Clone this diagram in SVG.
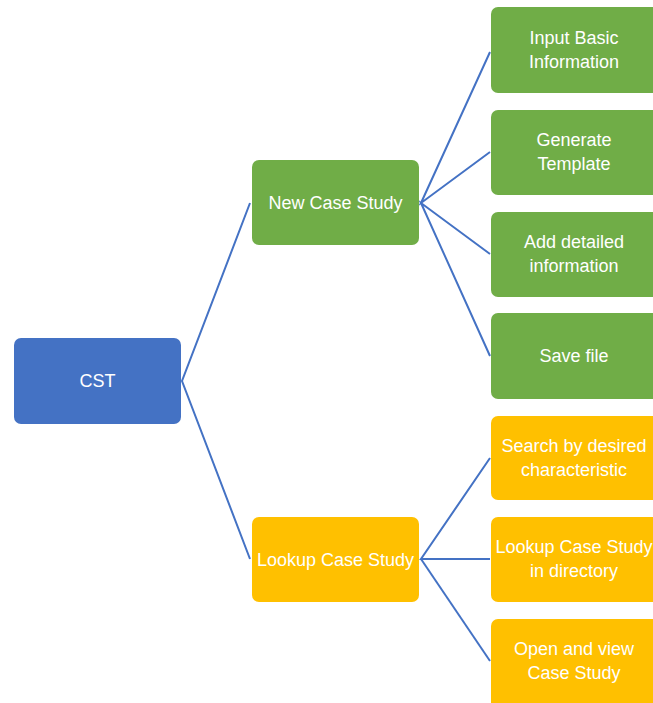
<svg xmlns="http://www.w3.org/2000/svg" width="653" height="703" viewBox="0 0 653 703">
<style>
.b{fill:#4472C4}.g{fill:#70AD47}.y{fill:#FFC000}
text{font-family:"Liberation Sans","Open Sans",sans-serif;font-size:18px;fill:#fff;text-anchor:middle}
.c{fill:none;stroke:#4472C4;stroke-width:2}
</style>
<rect width="653" height="703" fill="#fff"/>
<g id="connectors" class="c">
<polyline points="250,203 182,381 250,559"/>
<polyline points="490,52 421,203 490,152"/>
<polyline points="490,254 421,203 490,356"/>
<polyline points="490,458 421,559 490,559"/>
<polyline points="421,559 490,661"/>
</g>
<g id="cst"><rect class="b" x="14" y="338" width="167" height="86" rx="7"/><text x="97.5" y="387">CST</text></g>
<g id="new"><rect class="g" x="252" y="160" width="167" height="85" rx="7"/><text x="335.5" y="209">New Case Study</text></g>
<g id="lookup"><rect class="y" x="252" y="517" width="167" height="85" rx="7"/><text x="335.5" y="566">Lookup Case Study</text></g>
<g id="input"><rect class="g" x="491" y="7" width="172" height="86" rx="7"/><text x="574" y="44">Input Basic</text><text x="574" y="68">Information</text></g>
<g id="generate"><rect class="g" x="491" y="110" width="172" height="85" rx="7"/><text x="574" y="146">Generate</text><text x="574" y="170">Template</text></g>
<g id="add"><rect class="g" x="491" y="212" width="172" height="85" rx="7"/><text x="574" y="248">Add detailed</text><text x="574" y="272">information</text></g>
<g id="save"><rect class="g" x="491" y="313" width="172" height="86" rx="7"/><text x="574" y="362">Save file</text></g>
<g id="search"><rect class="y" x="491" y="416" width="172" height="84" rx="7"/><text x="574" y="452">Search by desired</text><text x="574" y="476">characteristic</text></g>
<g id="lookupdir"><rect class="y" x="491" y="517" width="172" height="85" rx="7"/><text x="574" y="553">Lookup Case Study</text><text x="574" y="577">in directory</text></g>
<g id="open"><rect class="y" x="491" y="619" width="172" height="90" rx="7"/><text x="574" y="655">Open and view</text><text x="574" y="679">Case Study</text></g>
</svg>
